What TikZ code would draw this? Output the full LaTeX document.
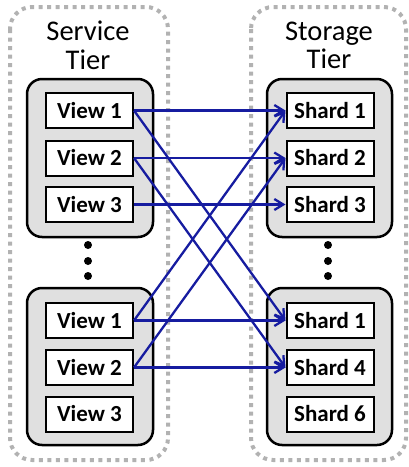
\documentclass[tikz,border=0pt]{standalone}
\usepackage{fontspec}
\setmainfont{Carlito}
\usetikzlibrary{arrows.meta}
\definecolor{arrowblue}{RGB}{22,28,160}
\definecolor{tiergray}{RGB}{178,178,178}
\definecolor{groupfill}{RGB}{224,224,224}
\tikzset{
  tier/.style={draw=tiergray, line width=4pt, dash pattern=on 4pt off 4.5pt, rounded corners=22pt},
  group/.style={draw=black, fill=groupfill, line width=2.5pt, rounded corners=15pt},
  itembox/.style={draw=black, fill=white, line width=2pt, minimum width=87pt, minimum height=35pt, inner sep=0pt, font=\fontsize{23}{26}\selectfont\bfseries},
  title/.style={font=\fontsize{28.5}{28.5}\selectfont, align=center, inner sep=0pt},
  link/.style={draw=arrowblue, line width=2.3pt, -{Straight Barb[length=9pt,width=11pt,line width=2.3pt]}},
  dot/.style={fill=black, circle, minimum size=8pt, inner sep=0pt}
}
\begin{document}
\begin{tikzpicture}[x=1pt,y=-1pt]
\useasboundingbox (0,0) rectangle (409,467);
% tiers
\draw[tier] (10,7) rectangle (168,460);
\draw[tier] (251,7) rectangle (406,460);
\node[title] (st) at (88,45.5) {Service\\Tier};
\node[title] (sg) at (329,45.5) {Storage\\Tier};
% groups
\draw[group] (27,79) rectangle (153,237);
\draw[group] (27,288) rectangle (153,445);
\draw[group] (267,79) rectangle (392,237);
\draw[group] (267,288) rectangle (392,445);
% views
\node[itembox] (tv1) at (89.5,110.5) {View 1};
\node[itembox] (tv2) at (89.5,158) {View 2};
\node[itembox] (tv3) at (89.5,204.5) {View 3};
\node[itembox] (bv1) at (89.5,320.5) {View 1};
\node[itembox] (bv2) at (89.5,367.5) {View 2};
\node[itembox] (bv3) at (89.5,414) {View 3};
% shards
\node[itembox] (ts1) at (330,110.5) {Shard 1};
\node[itembox] (ts2) at (330,158) {Shard 2};
\node[itembox] (ts3) at (330,204.5) {Shard 3};
\node[itembox] (bs1) at (330,320.5) {Shard 1};
\node[itembox] (bs4) at (330,367.5) {Shard 4};
\node[itembox] (bs6) at (330,414) {Shard 6};
% dots
\node[dot] (ld1) at (88,245) {};
\node[dot] (ld2) at (88,261) {};
\node[dot] (ld3) at (88,276) {};
\node[dot] (rd1) at (328,245) {};
\node[dot] (rd2) at (328,261) {};
\node[dot] (rd3) at (328,276) {};
% links
\draw[link] (tv1.east) -- (ts1.west);
\draw[link] (tv1.east) -- (bs1.west);
\draw[link] (tv2.east) -- (ts2.west);
\draw[link] (tv2.east) -- (bs4.west);
\draw[link] (tv3.east) -- (ts3.west);
\draw[link] (bv1.east) -- (bs1.west);
\draw[link] (bv1.east) -- (ts1.west);
\draw[link] (bv2.east) -- (bs4.west);
\draw[link] (bv2.east) -- (ts2.west);
\end{tikzpicture}
\end{document}
